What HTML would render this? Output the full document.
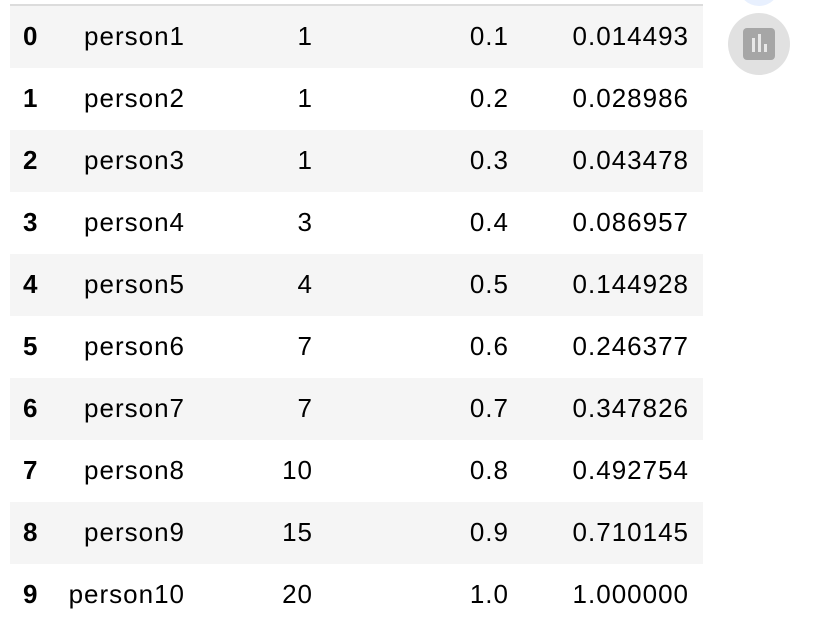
<!DOCTYPE html>
<html><head><meta charset="utf-8"><style>
body{margin:0;width:830px;height:632px;background:#fff;overflow:hidden;position:relative;font-family:"Liberation Sans",Arial,sans-serif;}
#tbl{position:absolute;left:10px;top:4px;width:693px;border-top:2px solid #dcdcdc;}
.row{position:relative;height:62px;}
.row:nth-child(odd){background:#f5f5f5;}
.c{position:absolute;top:0;line-height:60px;font-size:26px;color:#000;white-space:nowrap;letter-spacing:1px;}
.idx{left:13px;font-weight:bold;}
.r{text-align:right;}
.btn{position:absolute;left:728px;top:13px;width:62px;height:62px;border-radius:50%;background:#e1e1e1;}
.icon{position:absolute;left:15px;top:15px;width:32px;height:32px;border-radius:4px;background:#a6a6a6;}
.bar{position:absolute;bottom:8px;width:3px;background:#e8e8e8;}
.blue{position:absolute;left:738px;top:-36px;width:42px;height:42px;border-radius:50%;background:#e8f0fe;}
</style></head><body>
<div class="blue"></div>
<div id="tbl"></div>
<div class="btn">
 <div class="icon">
  <div class="bar" style="left:9px;height:14px"></div>
  <div class="bar" style="left:15px;height:18px"></div>
  <div class="bar" style="left:21px;height:8px"></div>
 </div>
</div>
<script>
const names=["person1","person2","person3","person4","person5","person6","person7","person8","person9","person10"];
const counts=["1","1","1","3","4","7","7","10","15","20"];
const ranks=["0.1","0.2","0.3","0.4","0.5","0.6","0.7","0.8","0.9","1.0"];
const cums=["0.014493","0.028986","0.043478","0.086957","0.144928","0.246377","0.347826","0.492754","0.710145","1.000000"];
const tbl=document.getElementById('tbl');
const rights=[null,175,303,499,679];
names.forEach((n,i)=>{
  const tr=document.createElement('div');
  tr.className='row';
  
  
  const vals=[String(i),n,counts[i],ranks[i],cums[i]];
  vals.forEach((v,j)=>{
    const td=document.createElement('div');
    
    
    td.textContent=v;
    if(j==0)td.className='c idx';
    else{td.className='c r';td.style.right=(693-rights[j])+'px';}
    tr.appendChild(td);
  });
  tbl.appendChild(tr);
});
</script>
</body></html>
